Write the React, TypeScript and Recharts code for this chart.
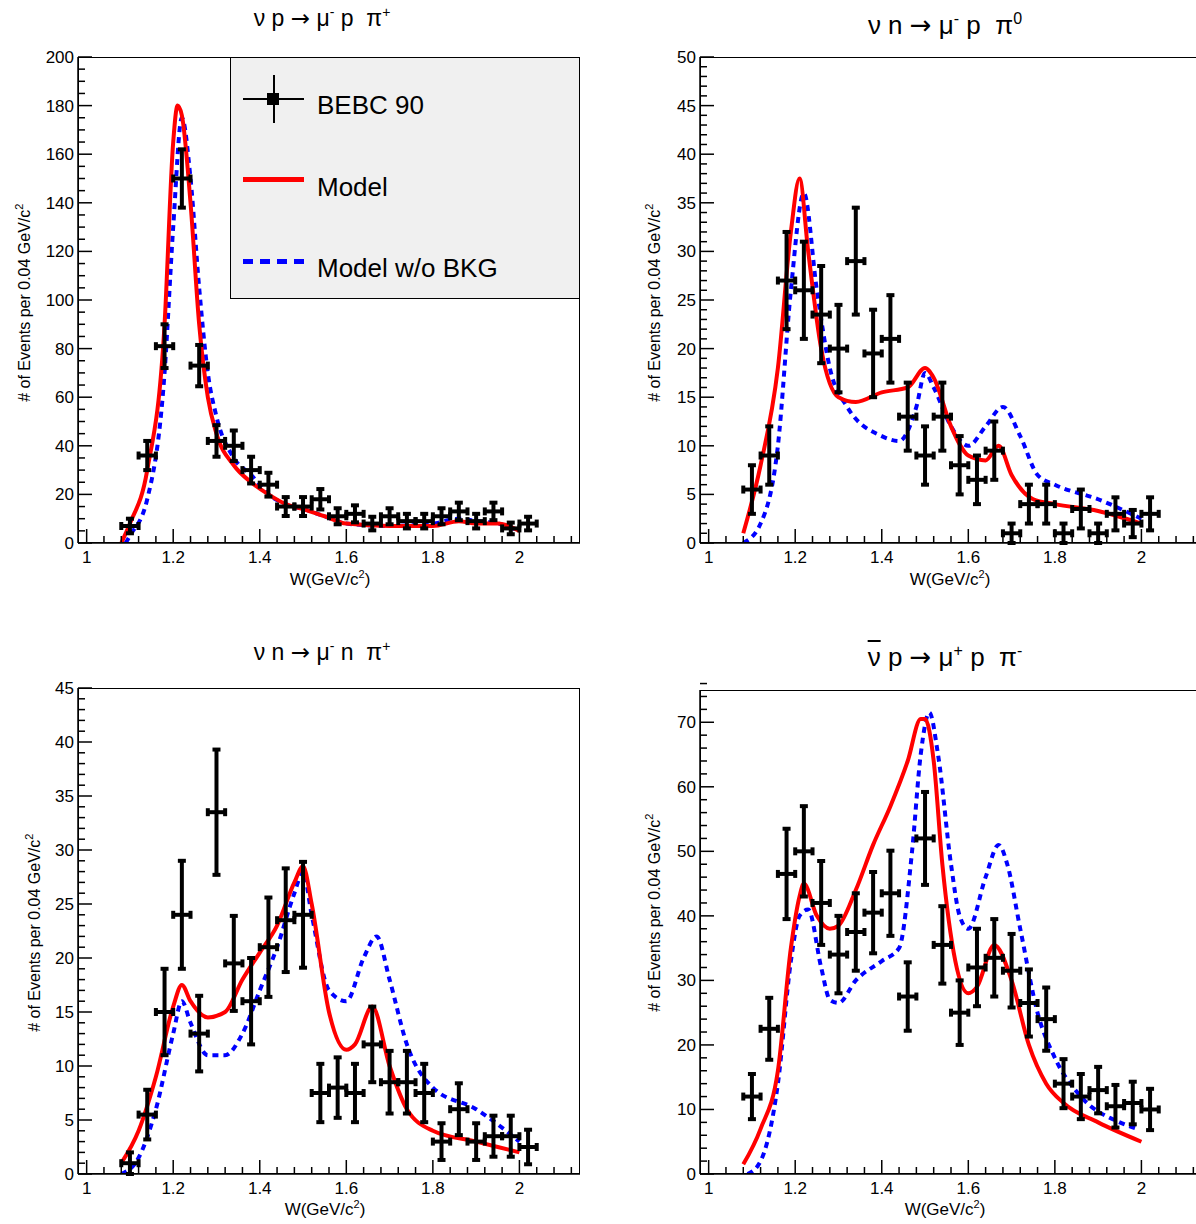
import React from 'react';
import { ComposedChart, Line, Scatter, ErrorBar, XAxis, YAxis } from 'recharts';

const BIN_HALF = 0.02;
const binX = [1.10,1.14,1.18,1.22,1.26,1.30,1.34,1.38,1.42,1.46,1.50,1.54,1.58,1.62,1.66,1.70,1.74,1.78,1.82,1.86,1.90,1.94,1.98,2.02];

// Panel 1: nu p -> mu- p pi+
const p1Data = [7,36,81,150,73,42,40,30,24,15,15,18,11,12,8,11,9,9,11,13,9,13,6,8];
const p1Err = [3,6,9,12,8.5,6.5,6.3,5.5,4.9,3.9,3.9,4.2,3.3,3.5,2.8,3.3,3,3,3.3,3.6,3,3.6,2.4,2.8];
const p1RedX = [1.08,1.1,1.14,1.18,1.2,1.21,1.22,1.24,1.26,1.28,1.3,1.34,1.38,1.42,1.46,1.5,1.55,1.6,1.7,1.8,1.86,1.9,1.95,2.0];
const p1RedY = [0,8,30,90,165,180,176,140,90,60,45,32,25,20,16,14,11,8,7,7,9,8,8,5];
const p1BlueX = [1.09,1.1,1.14,1.18,1.2,1.22,1.24,1.26,1.28,1.3,1.34,1.38,1.42,1.46,1.5,1.55,1.6,1.7,1.8,1.86,1.9,1.95,2.0];
const p1BlueY = [0,3,18,70,130,175,150,105,70,52,35,28,20,16,14,11,8,7,8,10,9,8,5];

// Panel 2: nu n -> mu- p pi0
const p2Data = [5.5,9,27,26,23.5,20,29,19.5,21,13,9,13,8,6.5,9.5,1,4,4,1,3.5,1,3,2,3];
const p2Err = [2.5,3,5,5,5,4.5,5.5,4.5,4.5,3.5,3,3.5,3,2.5,3,1,2,2,1,2,1,1.7,1.4,1.7];
const p2RedX = [1.08,1.12,1.16,1.19,1.21,1.23,1.26,1.3,1.34,1.4,1.46,1.5,1.52,1.56,1.6,1.64,1.67,1.7,1.75,1.8,1.9,2.0];
const p2RedY = [1,8,18,32,37.5,30,20,15,14.5,15.5,16,18,17,12,9,8.5,10,7,4.5,4,3.3,2];
const p2BlueX = [1.08,1.12,1.16,1.19,1.22,1.25,1.28,1.32,1.4,1.44,1.48,1.5,1.52,1.56,1.6,1.64,1.68,1.72,1.76,1.8,1.9,2.0];
const p2BlueY = [0,2,10,26,36,26,18,14,11,10.5,14,17.5,16,12,10,12,14,11,7,6,4.5,2.5];

// Panel 3: nu n -> mu- n pi+
const p3Data = [1,5.5,15,24,13,33.5,19.5,16,21,23.5,24,7.5,8,7.5,12,8.5,8.5,7.5,3,6,3,3.5,3.5,2.5];
const p3Err = [1,2.3,4,5,3.5,5.8,4.4,4,4.6,4.8,4.9,2.7,2.8,2.7,3.5,2.9,2.9,2.7,1.7,2.4,1.7,1.9,1.9,1.6];
const p3RedX = [1.08,1.12,1.16,1.2,1.22,1.24,1.28,1.32,1.36,1.4,1.44,1.48,1.5,1.52,1.56,1.6,1.62,1.66,1.7,1.74,1.8,1.9,2.0];
const p3RedY = [1,4,9,15.5,17.5,16,14.5,15,18,20.5,23,27,28.5,25,15,11.5,12,15.5,10,6,4,3,2];
const p3BlueX = [1.08,1.12,1.16,1.2,1.22,1.24,1.28,1.32,1.36,1.4,1.44,1.48,1.5,1.52,1.56,1.6,1.64,1.67,1.7,1.74,1.8,1.9,2.0];
const p3BlueY = [0,1.5,6,13,16,14,11,11,13,17,21,26,28,24,17,16,20,22,18,12,8,6,3];

// Panel 4: nubar p -> mu+ p pi-
const p4Data = [12,22.5,46.5,50,42,34,37.5,40.5,43.5,27.5,52,35.5,25,32,33.5,31.5,26.5,24,14,12,13,10.5,11,10];
const p4Err = [3.5,4.8,7,7,6.5,6,6,6.3,6.6,5.3,7.2,6,5,6,6,5.7,5.2,4.9,3.8,3.5,3.6,3.3,3.3,3.2];
const p4RedX = [1.08,1.12,1.16,1.19,1.21,1.22,1.25,1.28,1.3,1.34,1.38,1.42,1.46,1.49,1.5,1.52,1.54,1.57,1.6,1.62,1.66,1.7,1.74,1.78,1.82,1.9,2.0];
const p4RedY = [1.5,7,16,35,43,45,40,38,38.5,44,51,57,64,70.5,70.5,64,48,33,28,29,35.5,30,20,14,11,8,5];
const p4BlueX = [1.09,1.12,1.16,1.19,1.21,1.23,1.26,1.28,1.3,1.34,1.4,1.44,1.47,1.49,1.51,1.53,1.56,1.58,1.6,1.64,1.67,1.69,1.72,1.76,1.8,1.86,1.95,1.99];
const p4BlueY = [0,2,14,33,40,41,32,27,26.5,30,33,35,50,65,71.5,65,48,40,38,46,51,48,38,25,18,12,8,7];

const xMajor = [1, 1.2, 1.4, 1.6, 1.8, 2];
const xTicks = Array.from({ length: 29 }, (_, i) => Math.round((1 + i * 0.04) * 100) / 100);

const zip = (xs: number[], ys: number[]) => xs.map((x, i) => ({ x, y: ys[i] }));
const pts = (ys: number[], es: number[]) => binX.map((x, i) => ({ x, y: ys[i], ey: es[i], ex: BIN_HALF }));

const FONT = 'Liberation Sans, Arial, sans-serif';
const TOPM = 14;

function XTick(props: any) {
  const { x, y, payload } = props;
  const major = xMajor.some(m => Math.abs(m - payload.value) < 1e-6);
  return (
    <g>
      <line x1={x} x2={x} y1={y} y2={y - (major ? 14 : 7)} stroke="#000" strokeWidth={1.5} />
      {major && <text x={x} y={y + 20} textAnchor="middle" fontSize={17} fontFamily={FONT} fill="#000">{payload.value}</text>}
    </g>
  );
}

function makeYTick(major: number) {
  return (props: any) => {
    const { x, y, payload } = props;
    const isMajor = Math.abs(payload.value / major - Math.round(payload.value / major)) < 1e-6;
    return (
      <g>
        <line x1={x} x2={x + (isMajor ? 14 : 7)} y1={y} y2={y} stroke="#000" strokeWidth={1.5} />
        {isMajor && <text x={x - 4} y={y + 6} textAnchor="end" fontSize={17} fontFamily={FONT} fill="#000">{payload.value}</text>}
      </g>
    );
  };
}

type PanelProps = {
  L: number; T: number; H: number; yMax: number; major: number; minor: number;
  data: number[]; err: number[]; rx: number[]; ry: number[]; bx: number[]; by: number[];
};

function Panel(p: PanelProps) {
  const W = 502;
  const yTicks = Array.from({ length: Math.round(p.yMax / p.minor) + 1 }, (_, i) => Math.round(i * p.minor * 100) / 100);
  const YT = makeYTick(p.major);
  return (
    <div style={{ position: 'absolute', left: p.L - 70, top: p.T - TOPM }}>
      <ComposedChart width={70 + W + 10} height={TOPM + p.H + 40} margin={{ top: TOPM, right: 10, left: 0, bottom: 0 }}>
        <XAxis dataKey="x" type="number" domain={[0.98, 2.14]} ticks={xTicks} interval={0} tick={<XTick />} tickLine={false} tickSize={0} tickMargin={0} height={40} stroke="#000" strokeWidth={1.5} allowDataOverflow />
        <YAxis type="number" domain={[0, p.yMax]} ticks={yTicks} interval={0} tick={<YT />} tickLine={false} tickSize={0} tickMargin={0} width={70} stroke="#000" strokeWidth={1.5} allowDataOverflow />
        <Line data={zip(p.bx, p.by)} dataKey="y" type="monotone" stroke="#0000ff" strokeWidth={4} strokeDasharray="6 5" dot={false} isAnimationActive={false} />
        <Line data={zip(p.rx, p.ry)} dataKey="y" type="monotone" stroke="#ff0000" strokeWidth={4} dot={false} isAnimationActive={false} />
        <Scatter data={pts(p.data, p.err)} dataKey="y" fill="#000" shape={() => <g />} isAnimationActive={false}>
          <ErrorBar dataKey="ey" direction="y" stroke="#000" strokeWidth={4} width={4} />
          <ErrorBar dataKey="ex" direction="x" stroke="#000" strokeWidth={4} width={4} />
        </Scatter>
      </ComposedChart>
      <div style={{ position: 'absolute', left: 70, top: TOPM, width: W, height: p.H, border: '1.5px solid #000', boxSizing: 'border-box', pointerEvents: 'none' }} />
    </div>
  );
}

const yLabel = (left: number, cy: number) => (
  <div style={{ position: 'absolute', left: left - 200, top: cy - 10, width: 400, textAlign: 'center', transform: 'rotate(-90deg)', fontFamily: FONT, fontSize: 16, lineHeight: '20px', whiteSpace: 'nowrap' }}>
    # of Events per 0.04 GeV/c<sup style={{ fontSize: 11 }}>2</sup>
  </div>
);
const xLabel = (cx: number, top: number) => (
  <div style={{ position: 'absolute', left: cx - 100, top, width: 200, textAlign: 'center', fontFamily: FONT, fontSize: 17 }}>
    W(GeV/c<sup style={{ fontSize: 11 }}>2</sup>)
  </div>
);
const arrow = <span style={{ fontFamily: 'DejaVu Sans' }}>→</span>;
const title = (cx: number, top: number, content: React.ReactNode, fs: number) => (
  <div style={{ position: 'absolute', left: cx - 200, top, width: 400, textAlign: 'center', fontFamily: FONT, fontSize: fs, whiteSpace: 'nowrap' }}>{content}</div>
);

export default function App() {
  return (
    <div style={{ position: 'absolute', left: 0, top: 0, width: 1196, height: 1224, overflow: 'hidden', background: '#fff' }}>
      {title(322, 4, <>ν p {arrow} μ<sup style={{ fontSize: 14 }}>-</sup> p &nbsp;π<sup style={{ fontSize: 14 }}>+</sup></>, 23)}
      {title(945, 10, <>ν n {arrow} μ<sup style={{ fontSize: 16 }}>-</sup> p &nbsp;π<sup style={{ fontSize: 16 }}>0</sup></>, 26)}
      {title(322, 638, <>ν n {arrow} μ<sup style={{ fontSize: 14 }}>-</sup> n &nbsp;π<sup style={{ fontSize: 14 }}>+</sup></>, 23)}
      {title(945, 642, <><span style={{ textDecoration: 'overline' }}>ν</span> p {arrow} μ<sup style={{ fontSize: 16 }}>+</sup> p &nbsp;π<sup style={{ fontSize: 16 }}>-</sup></>, 26)}

      <Panel L={78} T={57} H={486} yMax={200} major={20} minor={5} data={p1Data} err={p1Err} rx={p1RedX} ry={p1RedY} bx={p1BlueX} by={p1BlueY} />
      <Panel L={700} T={57} H={486} yMax={50} major={5} minor={1} data={p2Data} err={p2Err} rx={p2RedX} ry={p2RedY} bx={p2BlueX} by={p2BlueY} />
      <Panel L={78} T={688} H={486} yMax={45} major={5} minor={1} data={p3Data} err={p3Err} rx={p3RedX} ry={p3RedY} bx={p3BlueX} by={p3BlueY} />
      <Panel L={700} T={690} H={484} yMax={75} major={10} minor={2} data={p4Data} err={p4Err} rx={p4RedX} ry={p4RedY} bx={p4BlueX} by={p4BlueY} />

      {yLabel(22, 300)}
      {yLabel(652, 300)}
      {yLabel(32, 930)}
      {yLabel(652, 910)}
      {xLabel(330, 568)}
      {xLabel(950, 568)}
      {xLabel(325, 1198)}
      {xLabel(945, 1198)}

      <div style={{ position: 'absolute', left: 230, top: 57, width: 350, height: 242, background: '#f0f0f0', border: '1.5px solid #000', boxSizing: 'border-box', fontFamily: FONT }}>
        <div style={{ position: 'absolute', left: 12, top: 40, width: 61, height: 1.5, background: '#000' }} />
        <div style={{ position: 'absolute', left: 42, top: 17, width: 1.5, height: 48, background: '#000' }} />
        <div style={{ position: 'absolute', left: 36, top: 35, width: 12, height: 12, background: '#000' }} />
        <div style={{ position: 'absolute', left: 86, top: 32, fontSize: 26 }}>BEBC 90</div>
        <div style={{ position: 'absolute', left: 12, top: 119, width: 61, height: 5, background: '#ff0000' }} />
        <div style={{ position: 'absolute', left: 86, top: 114, fontSize: 26 }}>Model</div>
        <div style={{ position: 'absolute', left: 12, top: 201, width: 61, height: 0, borderTop: '5px dashed #0000ff' }} />
        <div style={{ position: 'absolute', left: 86, top: 195, fontSize: 26 }}>Model w/o BKG</div>
      </div>
    </div>
  );
}
